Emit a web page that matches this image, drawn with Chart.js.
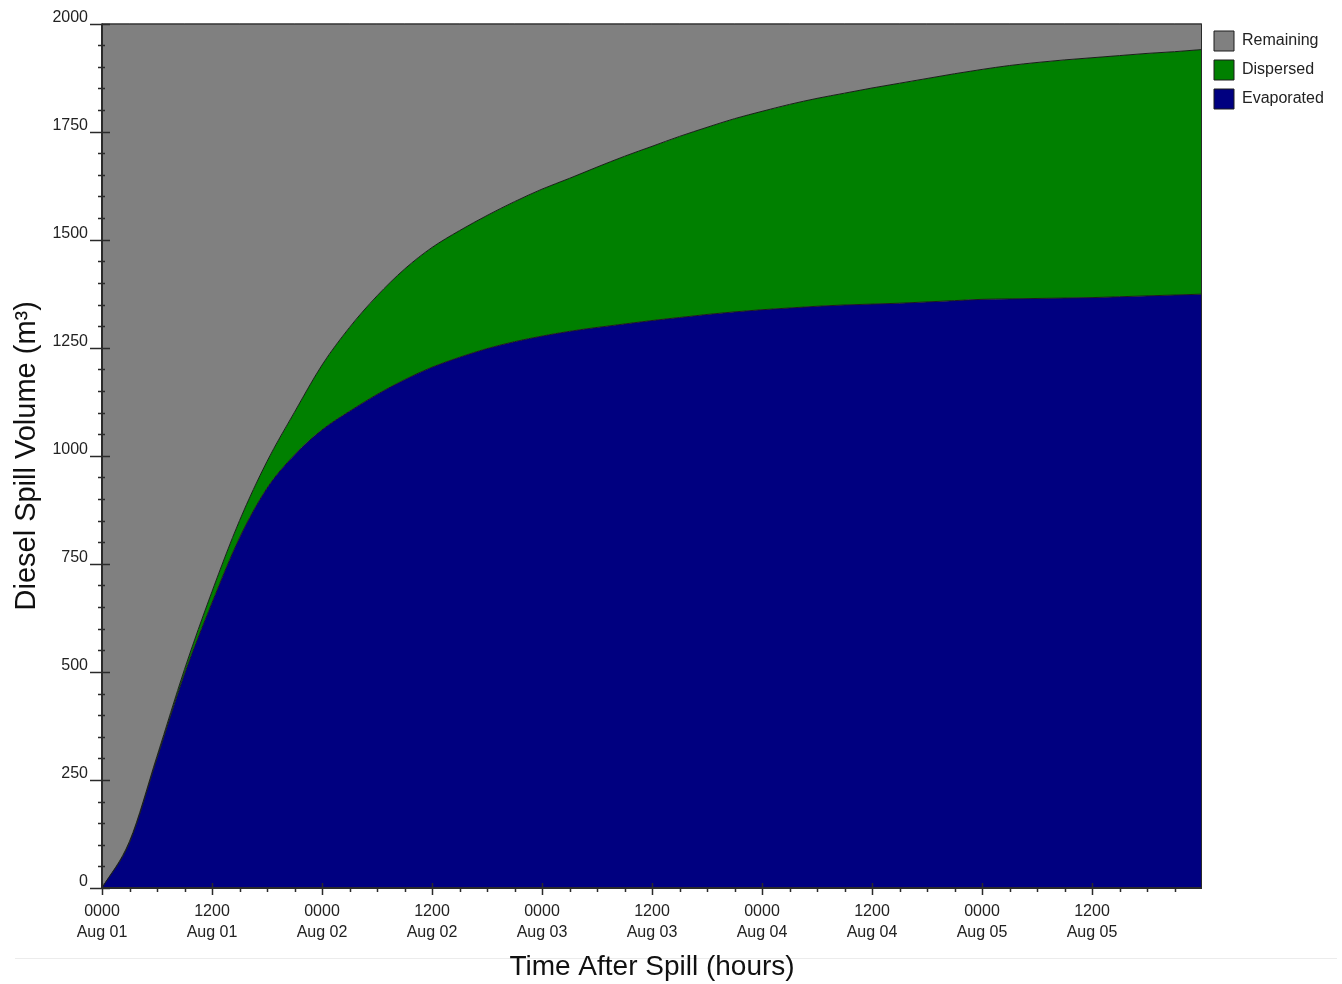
<!DOCTYPE html>
<html>
<head>
<meta charset="utf-8">
<script src="https://cdn.jsdelivr.net/npm/chart.js@4.4.1/dist/chart.umd.min.js"></script>
<style>
  html, body { margin: 0; padding: 0; background: #ffffff; }
  #wrap { position: relative; width: 1342px; height: 984px; }
  #rule { position: absolute; left: 15px; top: 958px; width: 1322px; height: 1px; background: #ececec; }
  canvas { position: absolute; left: 0; top: 0; }
</style>
</head>
<body>
<div id="wrap">
  <div id="rule"></div>
  <canvas id="c" width="1342" height="984"></canvas>
</div>
<script>
// ---- Data ----
const hours = [0, 3, 6, 9, 12, 15, 18, 21, 24, 27, 30, 33, 36, 39, 42, 45, 48, 51, 54, 57, 60,
  63, 66, 69, 72, 75, 78, 81, 84, 87, 90, 93, 96, 99, 102, 105, 108, 111, 114, 117, 120];

const evaporated = [0, 105, 300, 495, 660, 810, 925, 1002, 1060, 1103, 1142, 1176, 1205, 1228, 1248,
  1264, 1277, 1288, 1297, 1305, 1313, 1320, 1327, 1333, 1338, 1342, 1346, 1349, 1351, 1353, 1356,
  1359, 1362, 1363, 1364, 1365, 1366, 1368, 1370, 1372, 1374];

const dispersed = [0, 3, 5, 11, 26, 40, 62, 99, 150, 194, 228, 256, 277, 293, 308, 324, 340, 354,
  371, 388, 403, 419, 433, 447, 459, 471, 481, 490, 500, 509, 517, 525, 532, 540, 546, 551, 555,
  558, 561, 563, 566];

const remaining = [2000, 1892, 1695, 1494, 1314, 1150, 1013, 899, 790, 703, 630, 568, 518, 479,
  444, 412, 383, 358, 332, 307, 284, 261, 240, 220, 203, 187, 173, 161, 149, 138, 127, 116, 106,
  97, 90, 84, 79, 74, 69, 65, 60];

const seriesLabels = ['Evaporated', 'Dispersed', 'Remaining'];
const seriesColors = ['#000080', '#008000', '#808080'];

const xTickHours = [0, 12, 24, 36, 48, 60, 72, 84, 96, 108];
const xTickTimes = ['0000', '1200', '0000', '1200', '0000', '1200', '0000', '1200', '0000', '1200'];
const xTickDates = ['Aug 01', 'Aug 01', 'Aug 02', 'Aug 02', 'Aug 03', 'Aug 03', 'Aug 04', 'Aug 04', 'Aug 05', 'Aug 05'];
const yTickLabels = ['0', '250', '500', '750', '1000', '1250', '1500', '1750', '2000'];

const xTitle = 'Time After Spill (hours)';
const yTitle = 'Diesel Spill Volume (m\u00B3)';

// ---- Build datasets ----
const toPoints = arr => hours.map((h, i) => ({ x: h, y: arr[i] }));
const seriesValues = [evaporated, dispersed, remaining];

const datasets = seriesValues.map((vals, i) => ({
  label: seriesLabels[i],
  data: toPoints(vals),
  backgroundColor: seriesColors[i],
  borderColor: '#1c1c1c',
  borderWidth: 1,
  pointRadius: 0,
  fill: i === 0 ? 'origin' : '-1',
  cubicInterpolationMode: 'monotone'
}));

const LEGEND_W = 140;

const tweaks = {
  id: 'tweaks',
  beforeUpdate(chart) {
    const lg = chart.legend;
    if (lg && !lg._patched) {
      const fit = lg.fit;
      lg.fit = function () { fit.call(this); this.width = LEGEND_W; };
      lg._patched = true;
    }
  },
  afterLayout(chart) {
    const lg = chart.legend;
    if (lg) { lg.left += 3; lg.right += 3; }
  },
  afterDatasetsDraw(chart) {
    const { ctx, chartArea: a, scales: { x, y } } = chart;
    ctx.save();
    ctx.strokeStyle = '#2a2a2a';
    // frame top/right
    ctx.lineWidth = 1;
    ctx.beginPath();
    ctx.moveTo(a.left, a.top + 0.5);
    ctx.lineTo(a.right - 0.5, a.top + 0.5);
    ctx.lineTo(a.right - 0.5, a.bottom);
    ctx.stroke();
    // left & bottom axis lines
    ctx.lineWidth = 2;
    ctx.beginPath();
    ctx.moveTo(a.left, a.top);
    ctx.lineTo(a.left, a.bottom);
    ctx.lineTo(a.right, a.bottom);
    ctx.stroke();
    // y ticks
    ctx.lineWidth = 1.5;
    ctx.beginPath();
    y.ticks.forEach(t => {
      const py = Math.round(y.getPixelForValue(t.value)) + 0.5;
      const major = t.value % 250 === 0;
      ctx.moveTo(a.left - (major ? 12 : 4), py);
      ctx.lineTo(a.left + (major ? 8 : 3), py);
    });
    // x ticks (major every 12 h, minor every 3 h)
    for (let h = 0; h < 120; h += 3) {
      const px = Math.round(x.getPixelForValue(h)) + 0.5;
      const major = h % 12 === 0;
      ctx.moveTo(px, a.bottom - (major ? 5 : 1));
      ctx.lineTo(px, a.bottom + (major ? 7 : 4));
    }
    ctx.stroke();
    ctx.restore();
  }
};

new Chart(document.getElementById('c'), {
  type: 'line',
  data: { datasets },
  options: {
    responsive: false,
    animation: false,
    layout: { padding: { top: 22, right: 0, bottom: 0, left: 0 } },
    plugins: {
      tooltip: { enabled: false },
      legend: {
        position: 'right',
        align: 'start',
        reverse: true,
        labels: {
          boxWidth: 20,
          boxHeight: 20,
          padding: 9,
          color: '#222',
          font: { family: '"Liberation Sans", Arial, sans-serif', size: 16 }
        }
      }
    },
    scales: {
      x: {
        type: 'linear',
        min: 0,
        max: 120,
        grid: { display: false, drawTicks: false },
        border: { display: false },
        afterFit(scale) { scale.height = 96; },
        ticks: {
          stepSize: 12,
          autoSkip: false,
          maxRotation: 0,
          padding: 13,
          color: '#222',
          font: { family: '"Liberation Sans", Arial, sans-serif', size: 16, lineHeight: 1.3 },
          callback(value) {
            const i = xTickHours.indexOf(value);
            return i >= 0 ? [xTickTimes[i], xTickDates[i]] : '';
          }
        },
        title: {
          display: true,
          text: xTitle,
          color: '#111',
          font: { family: '"Liberation Sans", Arial, sans-serif', size: 28 },
          padding: { top: 0, bottom: 0 }
        }
      },
      y: {
        stacked: true,
        min: 0,
        max: 2000,
        grid: { display: false, drawTicks: false },
        border: { display: false },
        afterFit(scale) { scale.width = 102; },
        ticks: {
          stepSize: 50,
          autoSkip: false,
          padding: 14,
          labelOffset: -6,
          color: '#222',
          font: { family: '"Liberation Sans", Arial, sans-serif', size: 16 },
          callback(value) {
            const i = yTickLabels.indexOf(String(value));
            return i >= 0 ? yTickLabels[i] : '';
          }
        },
        title: {
          display: true,
          text: yTitle,
          color: '#111',
          font: { family: '"Liberation Sans", Arial, sans-serif', size: 29 },
          padding: { top: 10, bottom: 0 }
        }
      }
    }
  },
  plugins: [tweaks]
});
</script>
</body>
</html>
